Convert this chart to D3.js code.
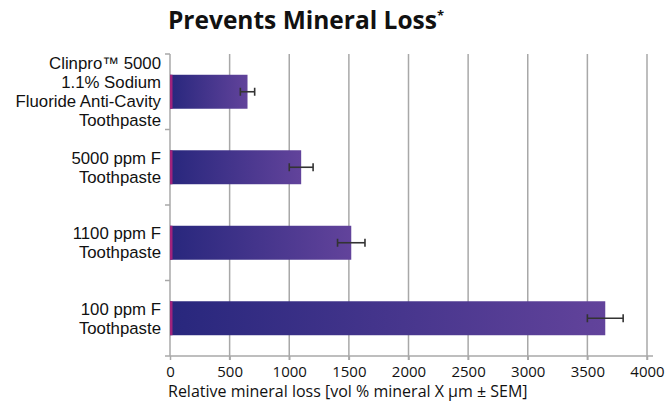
<!DOCTYPE html>
<html>
<head>
<meta charset="utf-8">
<script src="https://d3js.org/d3.v7.min.js"></script>
<style>
  body { margin: 0; background: #fff; }
  text { font-family: "Open Sans", Lato, sans-serif; fill: #111; }
  .cat { font-family: "Liberation Sans", Arial, sans-serif; }
</style>
</head>
<body>
<svg id="chart" width="667" height="405"></svg>
<script>
// data
const categories = [
  ["Clinpro\u2122 5000", "1.1% Sodium", "Fluoride Anti-Cavity", "Toothpaste"],
  ["5000 ppm F", "Toothpaste"],
  ["1100 ppm F", "Toothpaste"],
  ["100 ppm F", "Toothpaste"]
];
const values = [650, 1100, 1520, 3650];
const sem = [60, 100, 115, 150];
const xTicks = [0, 500, 1000, 1500, 2000, 2500, 3000, 3500, 4000];

const svg = d3.select("#chart");
const margin = { top: 54, right: 20, bottom: 49, left: 170 };
const x0 = margin.left, x1 = 647, y0 = margin.top, y1 = 356;

const x = d3.scaleLinear().domain([0, 4000]).range([x0, x1]);
const y = d3.scaleBand().domain(d3.range(categories.length)).range([y0, y1]).paddingInner(0.55).paddingOuter(0.275);
const yb = d3.scaleBand().domain(d3.range(categories.length)).range([y0, y1]);

// gradient for bars
const grad = svg.append("defs").append("linearGradient").attr("id", "barGrad");
grad.append("stop").attr("offset", "0%").attr("stop-color", "#28277d");
grad.append("stop").attr("offset", "100%").attr("stop-color", "#62439b");

// title
const title = svg.append("text").attr("x", 306).attr("y", 29).attr("text-anchor", "middle")
  .style("font-size", "24.5px").style("font-weight", "700");
title.append("tspan").text("Prevents Mineral Loss");
title.append("tspan").attr("dy", -9).style("font-size", "13px").text("*");

// gridlines
svg.append("g").selectAll("line").data(xTicks.slice(1)).join("line")
  .attr("x1", d => x(d)).attr("x2", d => x(d))
  .attr("y1", y0).attr("y2", y1 + 4)
  .attr("stroke", "#a8a8a8").attr("stroke-width", 1.5);

// x axis
const xAxis = svg.append("g").attr("transform", `translate(0,${y1})`)
  .call(d3.axisBottom(x).tickValues(xTicks).tickFormat(d3.format("d")).tickSize(4).tickPadding(6));
xAxis.select(".domain").attr("d", `M${x0},0H${x1 + 6}`).attr("stroke", "#a8a8a8").attr("stroke-width", 1.5);
xAxis.selectAll(".tick line").attr("stroke", "#a8a8a8").attr("stroke-width", 1.5);
xAxis.selectAll(".tick text").style("font-size", "15px").attr("fill", "#111")
  .attr("y", 21).attr("dy", null);

// y axis line with ticks at band boundaries
svg.append("line").attr("x1", x0).attr("x2", x0).attr("y1", y0).attr("y2", y1)
  .attr("stroke", "#a8a8a8").attr("stroke-width", 1.5);
svg.append("g").selectAll("line").data(d3.range(categories.length + 1)).join("line")
  .attr("x1", x0 - 5).attr("x2", x0)
  .attr("y1", d => y0 + d * yb.step()).attr("y2", d => y0 + d * yb.step())
  .attr("stroke", "#a8a8a8").attr("stroke-width", 1.5);

// category labels
const lineH = 19;
svg.append("g").selectAll("text").data(categories).join("text")
  .attr("class", "cat").attr("text-anchor", "end").style("font-size", "16.8px")
  .each(function (lines, i) {
    const cy = yb(i) + yb.bandwidth() / 2;
    const start = cy - (lines.length - 1) * lineH / 2 + 6;
    d3.select(this).selectAll("tspan").data(lines).join("tspan")
      .attr("x", 161).attr("y", (d, j) => start + j * lineH).text(d => d);
  });

// bars
svg.append("g").selectAll("rect").data(values).join("rect")
  .attr("x", x(0)).attr("y", (d, i) => y(i))
  .attr("width", d => x(d) - x(0)).attr("height", y.bandwidth())
  .attr("fill", "url(#barGrad)");
svg.append("g").selectAll("rect").data(values).join("rect")
  .attr("x", x(0)).attr("y", (d, i) => y(i))
  .attr("width", 2.5).attr("height", y.bandwidth())
  .attr("fill", "#a0237c");

// error bars
const eb = svg.append("g").attr("stroke", "#333").attr("stroke-width", 1.6);
values.forEach((v, i) => {
  const cy = y(i) + y.bandwidth() / 2;
  eb.append("line").attr("x1", x(v - sem[i])).attr("x2", x(v + sem[i])).attr("y1", cy).attr("y2", cy);
  [v - sem[i], v + sem[i]].forEach(e => {
    eb.append("line").attr("x1", x(e)).attr("x2", x(e)).attr("y1", cy - 4).attr("y2", cy + 4);
  });
});

// x axis title
svg.append("text").attr("x", 168).attr("y", 397).style("font-size", "16px")
  .text("Relative mineral loss [vol % mineral X \u00b5m \u00b1 SEM]");
</script>
</body>
</html>
